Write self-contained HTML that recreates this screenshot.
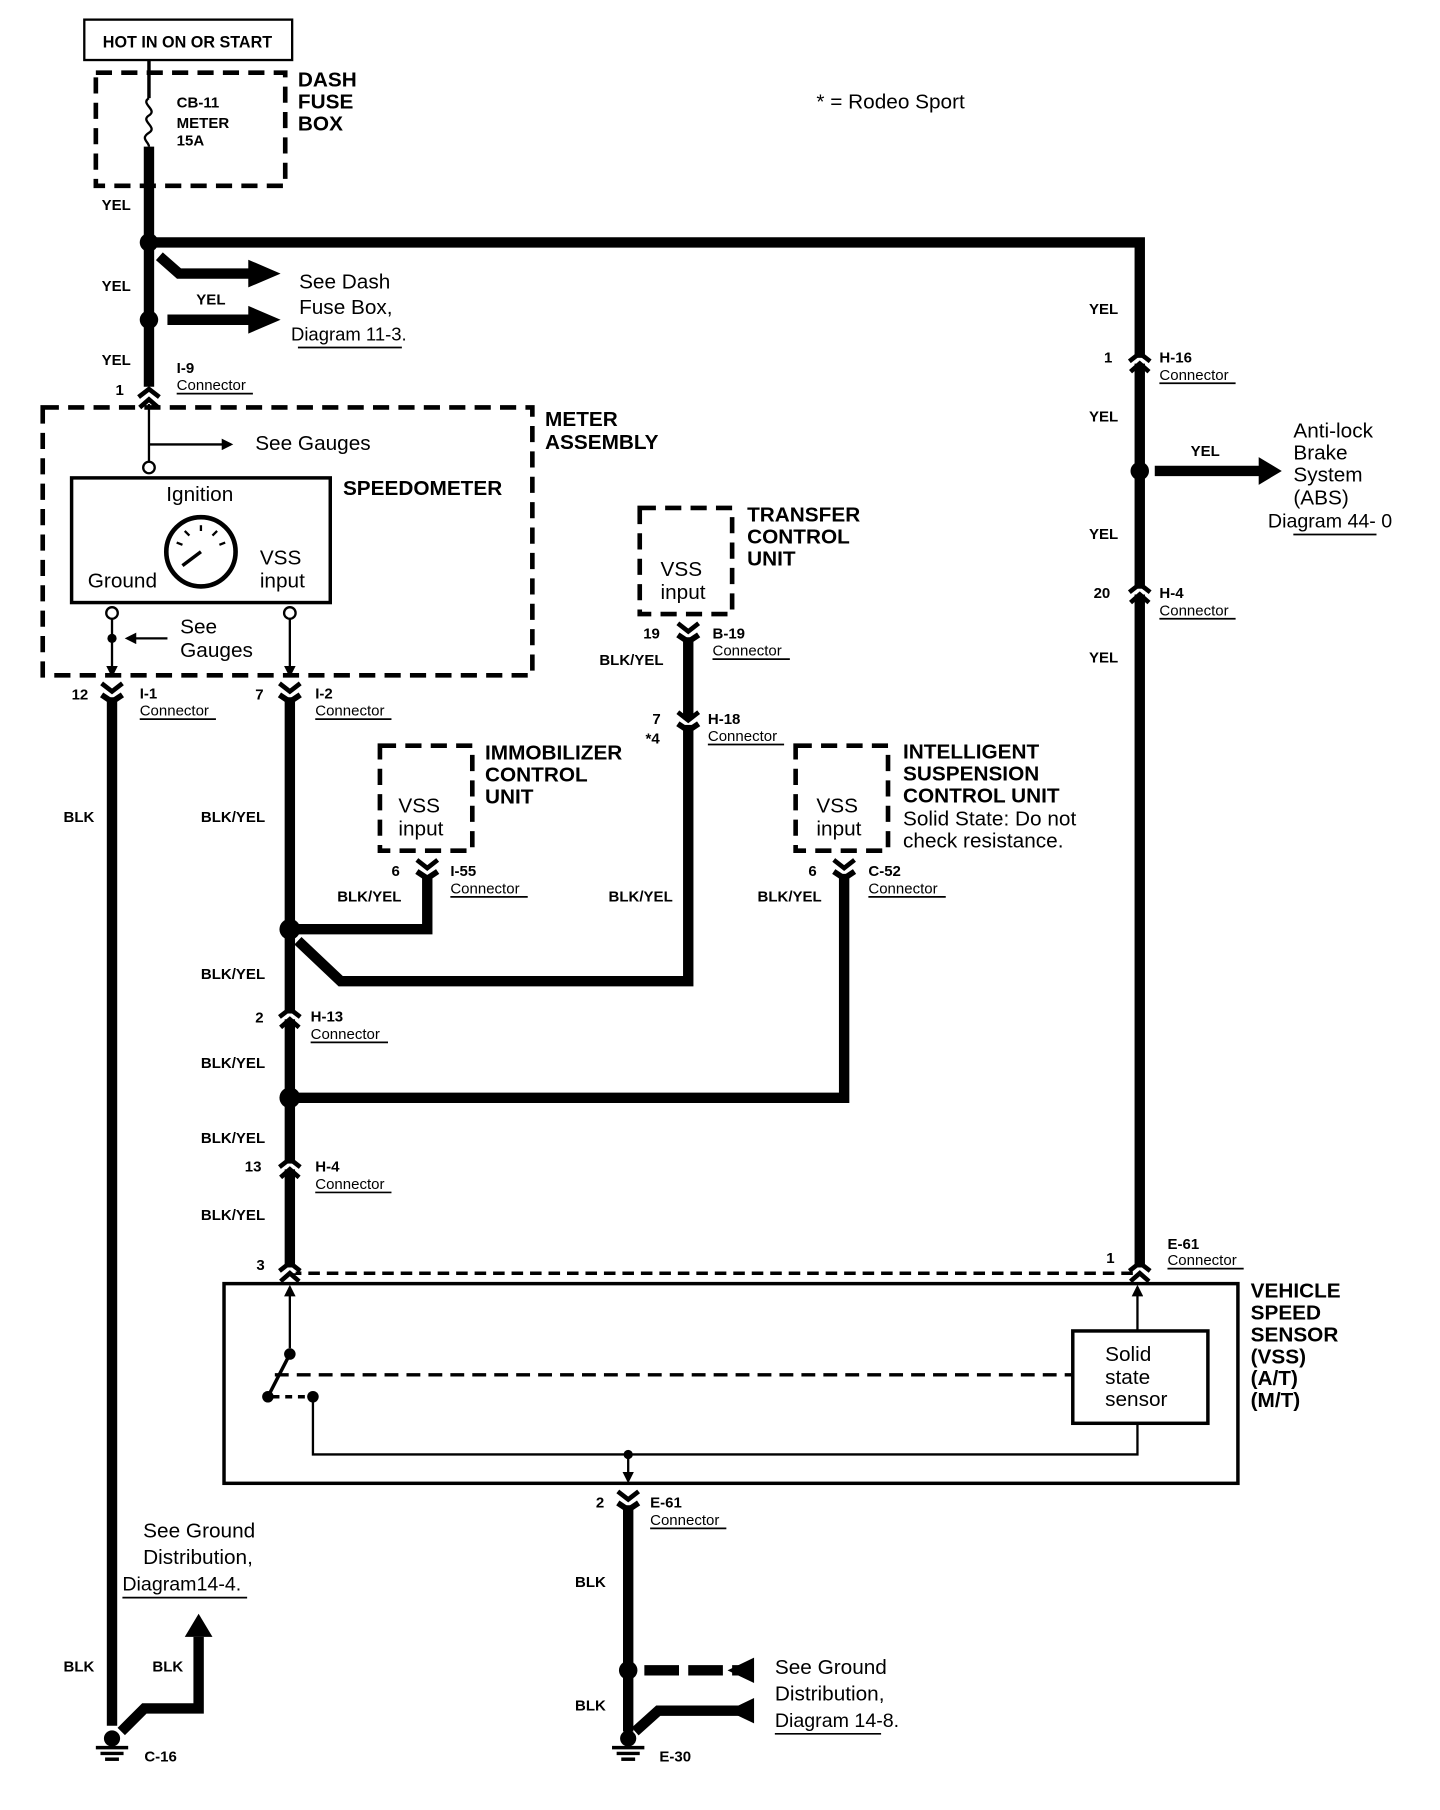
<!DOCTYPE html>
<html><head><meta charset="utf-8"><style>
html,body{margin:0;padding:0;background:#fff;}
svg{display:block;}
text{font-family:"Liberation Sans",Arial,sans-serif;fill:#000;}
.b{font-weight:bold;font-size:13px;}
.h{font-weight:bold;font-size:18px;}
.n{font-size:18px;}
.s{font-size:13px;}
</style></head><body>
<svg width="1440" height="1810" viewBox="0 0 1247 1568" preserveAspectRatio="none" xmlns="http://www.w3.org/2000/svg">
<defs>
<marker id="ah" markerWidth="10" markerHeight="10" refX="8" refY="5" orient="auto" markerUnits="userSpaceOnUse"><path d="M0,0 L10,5 L0,10 z" fill="#000"/></marker>
<g id="con"><rect x="-5" y="-2" width="10" height="5" fill="#fff"/><path d="M-9,1 L0,-6 L9,1" fill="none" stroke="#000" stroke-width="4"/><path d="M-8,10 L0,3 L8,10" fill="none" stroke="#000" stroke-width="4"/></g>
<g id="con2"><rect x="-5" y="-2" width="10" height="5" fill="#fff"/><path d="M-9,-8 L0,-1 L9,-8" fill="none" stroke="#000" stroke-width="4"/><path d="M-9,2 L0,8 L9,2" fill="none" stroke="#000" stroke-width="5"/></g>
<g id="gnd"><circle cx="0" cy="-6" r="7" fill="#000"/><line x1="-14" y1="2" x2="14" y2="2" stroke="#000" stroke-width="3"/><line x1="-10" y1="7" x2="10" y2="7" stroke="#000" stroke-width="3"/><line x1="-6" y1="12" x2="6" y2="12" stroke="#000" stroke-width="3"/></g>
</defs>
<g fill="none" stroke="#000">
<rect x="73" y="17" width="180" height="35" stroke-width="2"/>
<rect x="83" y="63" width="164" height="98" stroke-width="4" stroke-dasharray="14,8"/>
<rect x="37" y="353" width="424" height="232" stroke-width="4" stroke-dasharray="14,8"/>
<rect x="554" y="440" width="80" height="92" stroke-width="4" stroke-dasharray="14,8"/>
<rect x="329" y="646" width="80" height="91" stroke-width="4" stroke-dasharray="14,8"/>
<rect x="689" y="646" width="80" height="91" stroke-width="4" stroke-dasharray="14,8"/>
<rect x="62" y="414" width="224" height="108" stroke-width="3"/>
<circle cx="174" cy="478" r="30" stroke-width="4"/>
<line x1="174" y1="478" x2="158" y2="490" stroke-width="3"/>
<g stroke-width="2"><line x1="153" y1="470" x2="158" y2="472"/><line x1="160" y1="460" x2="164" y2="464"/><line x1="174" y1="455" x2="174" y2="460"/><line x1="188" y1="460" x2="184" y2="464"/><line x1="195" y1="470" x2="190" y2="472"/></g>
<rect x="194" y="1112" width="878" height="173" stroke-width="3"/>
<rect x="929" y="1153" width="117" height="80" stroke-width="3"/>
<line x1="129" y1="52" x2="129" y2="85" stroke-width="3"/>
<path d="M129,85 c-8,5 8,10 0,15 c-8,5 8,10 0,15 c-8,5 0,8 0,12" stroke-width="2"/>
<line x1="129" y1="127" x2="129" y2="210" stroke-width="9"/>
<path d="M129,210 H987 V1098" stroke-width="9"/>
<line x1="129" y1="210" x2="129" y2="335" stroke-width="9"/>
<path d="M138,222 L155,237 H225" stroke-width="9"/>
<line x1="145" y1="277" x2="225" y2="277" stroke-width="9"/>
<line x1="1000" y1="408" x2="1093" y2="408" stroke-width="9"/>
<line x1="97" y1="604" x2="97" y2="1495" stroke-width="9"/>
<path d="M105,1500 L125,1480 H172 V1418" stroke-width="9"/>
<line x1="251" y1="604" x2="251" y2="1098" stroke-width="9"/>
<path d="M251,805 H370 V758" stroke-width="9"/>
<path d="M258,815 L295,850 H596 V552" stroke-width="9"/>
<path d="M251,951 H731 V757" stroke-width="9"/>
<line x1="544" y1="1304" x2="544" y2="1500" stroke-width="9"/>
<line x1="558" y1="1447" x2="640" y2="1447" stroke-width="9" stroke-dasharray="30,8"/>
<path d="M550,1500 L570,1482 H640" stroke-width="9"/>
<line x1="129" y1="350" x2="129" y2="400" stroke-width="2"/>
<line x1="129" y1="385" x2="200" y2="385" stroke-width="2" marker-end="url(#ah)"/>
<line x1="97" y1="536" x2="97" y2="585" stroke-width="2" marker-end="url(#ah)"/>
<line x1="251" y1="536" x2="251" y2="585" stroke-width="2" marker-end="url(#ah)"/>
<line x1="145" y1="553" x2="110" y2="553" stroke-width="2" marker-end="url(#ah)"/>
<line x1="251" y1="1103" x2="987" y2="1103" stroke-width="3" stroke-dasharray="10,6"/>
<line x1="251" y1="1168" x2="251" y2="1115" stroke-width="2" marker-end="url(#ah)"/>
<line x1="251" y1="1173" x2="232" y2="1210" stroke-width="3"/>
<line x1="238" y1="1191" x2="929" y2="1191" stroke-width="3" stroke-dasharray="12,7"/>
<line x1="236" y1="1210" x2="266" y2="1210" stroke-width="3" stroke-dasharray="6,5"/>
<path d="M271,1210 V1260 H985 V1233" stroke-width="2"/>
<line x1="985" y1="1153" x2="985" y2="1115" stroke-width="2" marker-end="url(#ah)"/>
<line x1="544" y1="1260" x2="544" y2="1283" stroke-width="2" marker-end="url(#ah)"/>
<g stroke-width="1.5">
<line x1="153" y1="341" x2="219" y2="341"/><line x1="121" y1="623" x2="187" y2="623"/><line x1="273" y1="623" x2="339" y2="623"/>
<line x1="617" y1="571" x2="684" y2="571"/><line x1="613" y1="645" x2="679" y2="645"/><line x1="390" y1="777" x2="457" y2="777"/>
<line x1="752" y1="777" x2="819" y2="777"/><line x1="269" y1="903" x2="336" y2="903"/><line x1="273" y1="1033" x2="339" y2="1033"/>
<line x1="1004" y1="332" x2="1070" y2="332"/><line x1="1004" y1="536" x2="1070" y2="536"/><line x1="1011" y1="1099" x2="1077" y2="1099"/>
<line x1="563" y1="1324" x2="629" y2="1324"/><line x1="258" y1="301" x2="348" y2="301"/><line x1="1120" y1="463" x2="1192" y2="463"/>
<line x1="106" y1="1384" x2="214" y2="1384"/><line x1="671" y1="1502" x2="763" y2="1502"/>
</g>
</g>
<g fill="#000">
<path d="M215,225 L243,237 L215,249 z"/><path d="M215,265 L243,277 L215,289 z"/>
<path d="M1090,396 L1110,408 L1090,420 z"/><path d="M160,1418 L172,1398 L184,1418 z"/>
<path d="M653,1436 L630,1447 L653,1458 z"/><path d="M653,1471 L630,1482 L653,1493 z"/>
<circle cx="129" cy="210" r="8"/><circle cx="129" cy="277" r="8"/><circle cx="987" cy="408" r="8"/>
<circle cx="251" cy="805" r="9"/><circle cx="251" cy="951" r="9"/><circle cx="544" cy="1447" r="8"/>
<circle cx="97" cy="553" r="4"/><circle cx="251" cy="1173" r="5"/><circle cx="232" cy="1210" r="5"/><circle cx="271" cy="1210" r="5"/><circle cx="544" cy="1260" r="4"/>
</g>
<g fill="#fff" stroke="#000" stroke-width="2"><circle cx="129" cy="405" r="5"/><circle cx="97" cy="531" r="5"/><circle cx="251" cy="531" r="5"/></g>
<use href="#con" x="129" y="343"/><use href="#con2" x="97" y="600"/><use href="#con2" x="251" y="600"/>
<use href="#con2" x="596" y="548"/><use href="#con2" x="596" y="625"/><use href="#con2" x="370" y="753"/><use href="#con2" x="731" y="753"/>
<use href="#con" x="251" y="880"/><use href="#con" x="251" y="1010"/><use href="#con" x="251" y="1100"/>
<use href="#con" x="987" y="312"/><use href="#con" x="987" y="512"/><use href="#con" x="987" y="1100"/><use href="#con2" x="544" y="1300"/>
<use href="#gnd" x="97" y="1512"/><use href="#gnd" x="544" y="1512"/>
<text x="89" y="41" class="b" style="font-size:14px">HOT IN ON OR START</text>
<text x="153" y="93" class="b">CB-11</text><text x="153" y="111" class="b">METER</text><text x="153" y="126" class="b">15A</text>
<text x="258" y="75" class="h">DASH</text><text x="258" y="94" class="h">FUSE</text><text x="258" y="113" class="h">BOX</text>
<text x="707" y="94" class="n">* =  Rodeo Sport</text>
<text x="88" y="182" class="b">YEL</text><text x="88" y="252" class="b">YEL</text><text x="170" y="264" class="b">YEL</text><text x="88" y="316" class="b">YEL</text>
<text x="259" y="250" class="n">See Dash</text><text x="259" y="272" class="n">Fuse Box,</text><text x="252" y="295" class="n" style="font-size:16px">Diagram 11-3.</text>
<text x="100" y="342" class="b">1</text><text x="153" y="323" class="b">I-9</text><text x="153" y="338" class="s">Connector</text>
<text x="472" y="369" class="h">METER</text><text x="472" y="389" class="h">ASSEMBLY</text>
<text x="221" y="390" class="n">See Gauges</text>
<text x="144" y="434" class="n">Ignition</text><text x="76" y="509" class="n">Ground</text><text x="225" y="489" class="n">VSS</text><text x="225" y="509" class="n">input</text>
<text x="297" y="429" class="h">SPEEDOMETER</text>
<text x="156" y="549" class="n">See</text><text x="156" y="569" class="n">Gauges</text>
<text x="62" y="606" class="b">12</text><text x="121" y="605" class="b">I-1</text><text x="121" y="620" class="s">Connector</text>
<text x="221" y="606" class="b">7</text><text x="273" y="605" class="b">I-2</text><text x="273" y="620" class="s">Connector</text>
<text x="55" y="712" class="b">BLK</text><text x="174" y="712" class="b">BLK/YEL</text>
<text x="572" y="499" class="n">VSS</text><text x="572" y="519" class="n">input</text>
<text x="647" y="452" class="h">TRANSFER</text><text x="647" y="471" class="h">CONTROL</text><text x="647" y="490" class="h">UNIT</text>
<text x="557" y="553" class="b">19</text><text x="617" y="553" class="b">B-19</text><text x="617" y="568" class="s">Connector</text>
<text x="519" y="576" class="b">BLK/YEL</text>
<text x="565" y="627" class="b">7</text><text x="559" y="644" class="b">*4</text><text x="613" y="627" class="b">H-18</text><text x="613" y="642" class="s">Connector</text>
<text x="345" y="704" class="n">VSS</text><text x="345" y="724" class="n">input</text>
<text x="420" y="658" class="h">IMMOBILIZER</text><text x="420" y="677" class="h">CONTROL</text><text x="420" y="696" class="h">UNIT</text>
<text x="339" y="759" class="b">6</text><text x="390" y="759" class="b">I-55</text><text x="390" y="774" class="s">Connector</text>
<text x="292" y="781" class="b">BLK/YEL</text><text x="527" y="781" class="b">BLK/YEL</text><text x="656" y="781" class="b">BLK/YEL</text>
<text x="707" y="704" class="n">VSS</text><text x="707" y="724" class="n">input</text>
<text x="782" y="657" class="h">INTELLIGENT</text><text x="782" y="676" class="h">SUSPENSION</text><text x="782" y="695" class="h">CONTROL UNIT</text>
<text x="782" y="715" class="n">Solid State: Do not</text><text x="782" y="734" class="n">check resistance.</text>
<text x="700" y="759" class="b">6</text><text x="752" y="759" class="b">C-52</text><text x="752" y="774" class="s">Connector</text>
<text x="174" y="848" class="b">BLK/YEL</text>
<text x="221" y="886" class="b">2</text><text x="269" y="885" class="b">H-13</text><text x="269" y="900" class="s">Connector</text>
<text x="174" y="925" class="b">BLK/YEL</text><text x="174" y="990" class="b">BLK/YEL</text>
<text x="212" y="1015" class="b">13</text><text x="273" y="1015" class="b">H-4</text><text x="273" y="1030" class="s">Connector</text>
<text x="174" y="1057" class="b">BLK/YEL</text><text x="222" y="1100" class="b">3</text>
<text x="943" y="272" class="b">YEL</text><text x="956" y="314" class="b">1</text><text x="1004" y="314" class="b">H-16</text><text x="1004" y="329" class="s">Connector</text>
<text x="943" y="365" class="b">YEL</text><text x="1031" y="395" class="b">YEL</text>
<text x="1120" y="379" class="n">Anti-lock</text><text x="1120" y="398" class="n">Brake</text><text x="1120" y="417" class="n">System</text><text x="1120" y="437" class="n">(ABS)</text><text x="1098" y="457" class="n" style="font-size:17px">Diagram 44- 0</text>
<text x="943" y="467" class="b">YEL</text><text x="947" y="518" class="b">20</text><text x="1004" y="518" class="b">H-4</text><text x="1004" y="533" class="s">Connector</text>
<text x="943" y="574" class="b">YEL</text>
<text x="958" y="1094" class="b">1</text><text x="1011" y="1082" class="b">E-61</text><text x="1011" y="1096" class="s">Connector</text>
<text x="1083" y="1124" class="h">VEHICLE</text><text x="1083" y="1143" class="h">SPEED</text><text x="1083" y="1162" class="h">SENSOR</text><text x="1083" y="1181" class="h">(VSS)</text><text x="1083" y="1200" class="h">(A/T)</text><text x="1083" y="1219" class="h">(M/T)</text>
<text x="957" y="1179" class="n">Solid</text><text x="957" y="1199" class="n">state</text><text x="957" y="1218" class="n">sensor</text>
<text x="516" y="1306" class="b">2</text><text x="563" y="1306" class="b">E-61</text><text x="563" y="1321" class="s">Connector</text>
<text x="498" y="1375" class="b">BLK</text><text x="498" y="1482" class="b">BLK</text>
<text x="124" y="1332" class="n">See Ground</text><text x="124" y="1355" class="n">Distribution,</text><text x="106" y="1378" class="n" style="font-size:17px">Diagram14-4.</text>
<text x="55" y="1448" class="b">BLK</text><text x="132" y="1448" class="b">BLK</text>
<text x="125" y="1526" class="b">C-16</text><text x="571" y="1526" class="b">E-30</text>
<text x="671" y="1450" class="n">See Ground</text><text x="671" y="1473" class="n">Distribution,</text><text x="671" y="1496" class="n" style="font-size:17px">Diagram 14-8.</text>
</svg>
</body></html>
